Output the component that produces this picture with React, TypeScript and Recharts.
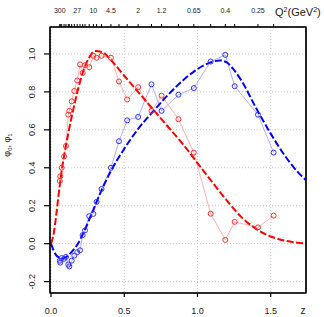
import React from 'react';
import { ComposedChart, Line, XAxis, YAxis, CartesianGrid, Label } from 'recharts';

const dataZ = [0.060, 0.063, 0.073, 0.089, 0.102, 0.118, 0.125, 0.141, 0.159, 0.179, 0.198, 0.216, 0.232, 0.261, 0.289, 0.311, 0.345, 0.409, 0.464, 0.52, 0.595, 0.686, 0.755, 0.87, 0.975, 1.09, 1.19, 1.254, 1.413, 1.52];
const phi0Data = [0.33, 0.355, 0.40, 0.46, 0.515, 0.68, 0.70, 0.75, 0.805, 0.86, 0.945, 0.90, 0.94, 0.93, 0.99, 0.98, 0.99, 0.98, 0.855, 0.76, 0.825, 0.70, 0.78, 0.656, 0.48, 0.158, 0.02, 0.115, 0.086, 0.148];
const phi1Data = [-0.09, -0.10, -0.076, -0.08, -0.07, -0.11, -0.12, -0.09, -0.063, -0.045, -0.035, 0.045, 0.07, 0.145, 0.157, 0.22, 0.288, 0.40, 0.54, 0.65, 0.668, 0.84, 0.70, 0.785, 0.82, 0.96, 0.995, 0.83, 0.68, 0.48];
const q2Labels = ['300', '', '', '', '', '', '', '', '', '27', '', '', '', '', '10', '', '', '4.5', '', '', '2', '', '1.2', '', '0.65', '', '0.4', '', '0.25', ''];

const curveZ = [0, 0.02, 0.04, 0.06, 0.08, 0.1, 0.12, 0.15, 0.18, 0.22, 0.26, 0.3, 0.35, 0.4, 0.5, 0.6, 0.7, 0.8, 0.9, 1.0, 1.1, 1.15, 1.2, 1.25, 1.3, 1.4, 1.5, 1.6, 1.7, 1.74];
const phi0Curve = [0, 0.06, 0.18, 0.31, 0.42, 0.51, 0.59, 0.70, 0.80, 0.91, 0.98, 1.015, 1.01, 0.975, 0.885, 0.795, 0.705, 0.615, 0.525, 0.425, 0.325, 0.275, 0.228, 0.182, 0.14, 0.078, 0.038, 0.015, 0.004, 0.002];
const phi1Curve = [0, -0.04, -0.065, -0.075, -0.078, -0.072, -0.06, -0.035, -0.005, 0.055, 0.125, 0.2, 0.29, 0.37, 0.50, 0.61, 0.70, 0.785, 0.86, 0.92, 0.958, 0.966, 0.955, 0.915, 0.86, 0.715, 0.58, 0.46, 0.365, 0.335];

const zTicks = [0, 0.5, 1.0, 1.5];
const yTicks = [-0.2, 0, 0.2, 0.4, 0.6, 0.8, 1.0];

const phi0Points = dataZ.map((z, i) => ({ z, v: phi0Data[i] }));
const phi1Points = dataZ.map((z, i) => ({ z, v: phi1Data[i] }));
const phi0Line = curveZ.map((z, i) => ({ z, v: phi0Curve[i] }));
const phi1Line = curveZ.map((z, i) => ({ z, v: phi1Curve[i] }));

const FONT = 'Liberation Sans, Arial, sans-serif';
const xDomain = [-0.007, 1.741];
const yDomain = [-0.26, 1.142];
const INK = '#000';
const AXIS = { stroke: INK, strokeWidth: 1.2 } as any;
const PLOT_TOP = 27;

const YTick = (props: any) => {
  const { y, payload } = props;
  return (
    <g>
      <line x1={44} x2={50} y1={y} y2={y} stroke={INK} strokeWidth={1.2} />
      <text x={35} y={y} transform={`rotate(-90, 35, ${y})`} textAnchor="middle" fontSize={9} fill="#222" fontFamily={FONT}>
        {Number(payload.value).toFixed(1)}
      </text>
    </g>
  );
};

const XTick = (props: any) => {
  const { x, payload } = props;
  return (
    <g>
      <line x1={x} x2={x} y1={293} y2={297} stroke={INK} strokeWidth={1.2} />
      <text x={x} y={314} textAnchor="middle" fontSize={9} fill="#222" fontFamily={FONT}>
        {Number(payload.value).toFixed(1)}
      </text>
    </g>
  );
};

const TopTick = (props: any) => {
  const { x, payload } = props;
  const idx = dataZ.indexOf(payload.value);
  const lab = idx >= 0 ? q2Labels[idx] : '';
  return (
    <g>
      <line x1={x} x2={x} y1={24} y2={27} stroke={INK} strokeWidth={1} />
      {lab ? (
        <text x={x} y={13} textAnchor="middle" fontSize={7} fill="#222" fontFamily={FONT}>
          {lab}
        </text>
      ) : null}
    </g>
  );
};

const BoxLabel = (props: any) => {
  const vb = props.viewBox || {};
  return (
    <g>
      <rect x={vb.x} y={PLOT_TOP} width={vb.width} height={vb.y - PLOT_TOP} fill="none" stroke={INK} strokeWidth={1.3} />
      <text x={303} y={314} textAnchor="middle" fontSize={10} fill="#222" fontFamily={FONT}>z</text>
    </g>
  );
};

export default function App() {
  return (
    <div style={{ position: 'absolute', left: 0, top: 0, background: '#fff' }}>
      <ComposedChart width={324} height={317} margin={{ top: 0, right: 0, bottom: 0, left: 0 }}>
        <CartesianGrid stroke="#c8c8c8" strokeDasharray="1 2" />
        <XAxis
          type="number"
          dataKey="z"
          domain={xDomain}
          allowDataOverflow
          ticks={zTicks}
          interval={0}
          height={24}
          tickSize={3}
          tick={<XTick />}
          axisLine={AXIS}
          tickLine={false}
        >
          <Label content={<BoxLabel />} />
        </XAxis>
        <XAxis
          xAxisId="top"
          orientation="top"
          type="number"
          dataKey="z"
          domain={xDomain}
          allowDataOverflow
          ticks={dataZ}
          interval={0}
          height={27}
          tickSize={3}
          tick={<TopTick />}
          axisLine={AXIS}
          tickLine={false}
        >
          <Label content={() => (
            <text x={275} y={16} fontSize={11} fill="#222" fontFamily={FONT}>
              Q<tspan dy={-4} fontSize={7}>2</tspan><tspan dy={4}>(GeV</tspan><tspan dy={-4} fontSize={7}>2</tspan><tspan dy={4}>)</tspan>
            </text>
          )} />
        </XAxis>
        <YAxis
          type="number"
          domain={yDomain}
          allowDataOverflow
          ticks={yTicks}
          interval={0}
          width={50}
          tickSize={6}
          tick={<YTick />}
          axisLine={AXIS}
          tickLine={false}
        >
          <Label content={() => (
            <text x={10} y={145} transform="rotate(-90, 10, 145)" textAnchor="middle" fontSize={9} fill="#222" fontFamily={FONT}>
              φ<tspan dy={2} fontSize={6}>0</tspan><tspan dy={-2}>, φ</tspan><tspan dy={2} fontSize={6}>1</tspan>
            </text>
          )} />
        </YAxis>
        <YAxis yAxisId="r" orientation="right" type="number" domain={yDomain} allowDataOverflow width={18} tick={false} tickLine={false} axisLine={AXIS} />

        <Line data={phi0Points} dataKey="v" type="linear" stroke="#ffb0b0" strokeWidth={1}
          dot={{ r: 2.5, stroke: '#ff3030', strokeWidth: 1, fill: 'none' }} isAnimationActive={false} />
        <Line data={phi1Points} dataKey="v" type="linear" stroke="#b0b0ff" strokeWidth={1}
          dot={{ r: 2.5, stroke: '#3030ff', strokeWidth: 1, fill: 'none' }} isAnimationActive={false} />
        <Line data={phi0Line} dataKey="v" type="monotone" stroke="#ff0000" strokeWidth={2}
          strokeDasharray="7 2.5" dot={false} isAnimationActive={false} />
        <Line data={phi1Line} dataKey="v" type="monotone" stroke="#0000ff" strokeWidth={2}
          strokeDasharray="7 2.5" dot={false} isAnimationActive={false} />
      </ComposedChart>
    </div>
  );
}
